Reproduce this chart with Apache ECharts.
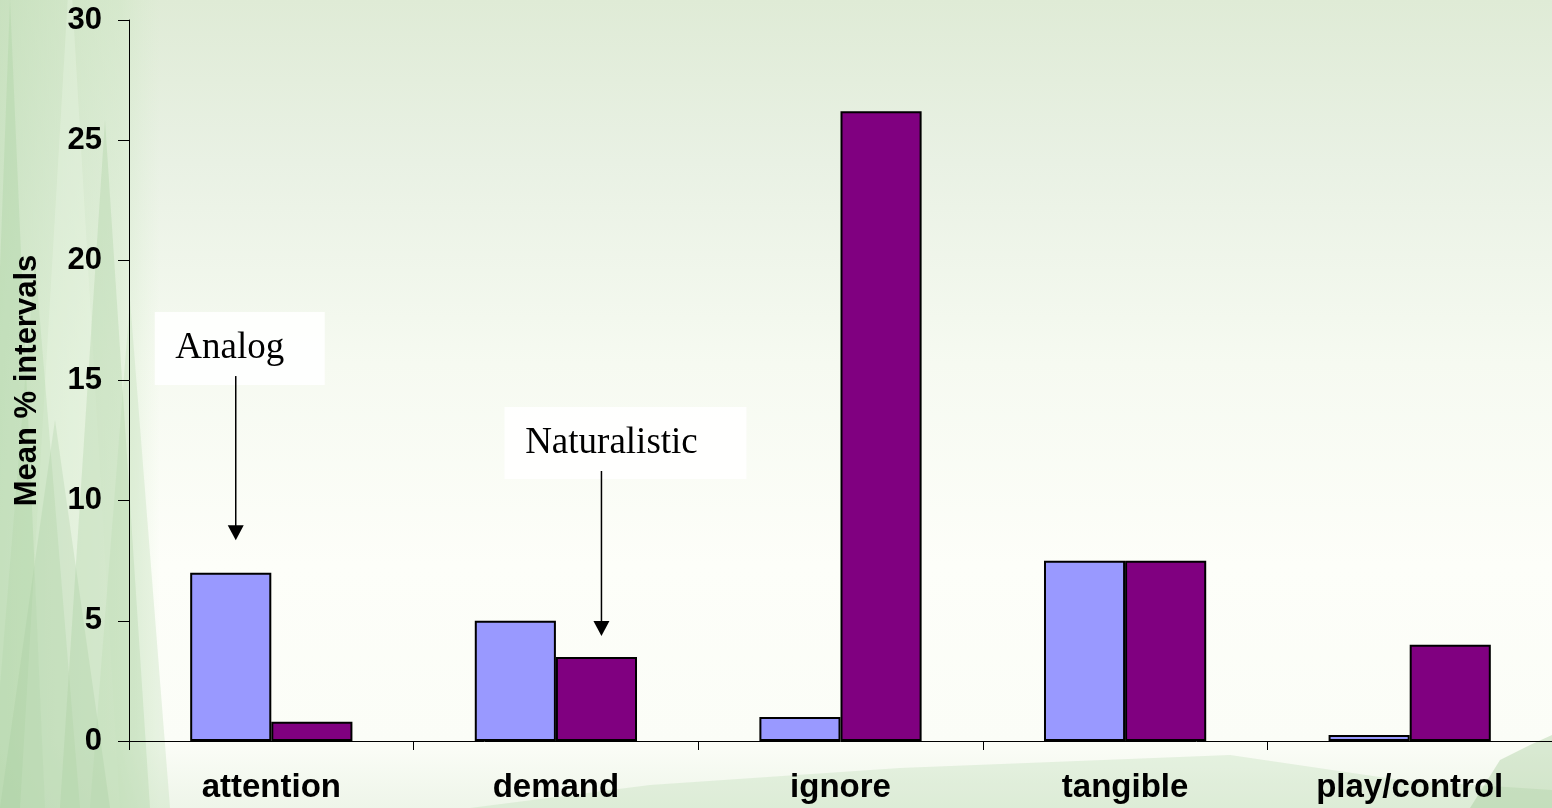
<!DOCTYPE html>
<html>
<head>
<meta charset="utf-8">
<script src="https://cdn.jsdelivr.net/npm/echarts@6/dist/echarts.min.js"></script>
<style>
html,body{margin:0;padding:0;width:1552px;height:808px;overflow:hidden;}
#chart{width:1552px;height:808px;}
</style>
</head>
<body>
<div id="chart"></div>
<script>
const categories = ['attention', 'demand', 'ignore', 'tangible', 'play/control'];
const analog = [7.0, 5.0, 1.0, 7.5, 0.25];
const naturalistic = [0.8, 3.5, 26.2, 7.5, 4.0];
const seriesNames = ['Analog', 'Naturalistic'];
const yTicks = { min: 0, max: 30, interval: 5 };
const yAxisName = 'Mean % intervals';
// annotation: which series/category it points to, and the value where the arrow tip ends
const annotations = [
  { text: 'Analog', series: 0, cat: 0, tipValue: 8.35, textValue: 16.35 },
  { text: 'Naturalistic', series: 1, cat: 1, tipValue: 4.37, textValue: 12.4 }
];

const chart = echarts.init(document.getElementById('chart'));

function treeGraphics() {
  const g = [];
  g.push({ type: 'rect', silent: true, z: -10, shape: { x: 0, y: 0, width: 160, height: 808 },
    style: { fill: new echarts.graphic.LinearGradient(0, 0, 1, 0, [
      { offset: 0, color: 'rgba(185,218,175,0.6)' },
      { offset: 0.75, color: 'rgba(200,228,190,0.4)' },
      { offset: 1, color: 'rgba(210,235,200,0)' }]) } });
  const spikes = [
    [[-20, 808], [10, 0], [45, 808]],
    [[20, 808], [70, -40], [120, 808]],
    [[60, 808], [105, 120], [150, 808]],
    [[-10, 808], [35, 260], [80, 808]],
    [[90, 808], [130, 300], [170, 808]],
    [[0, 808], [55, 420], [110, 808]]
  ];
  const cols = ['rgba(170,210,160,0.35)', 'rgba(235,245,230,0.35)', 'rgba(165,205,155,0.3)',
    'rgba(175,212,165,0.3)', 'rgba(185,218,175,0.3)', 'rgba(160,200,150,0.25)'];
  spikes.forEach((p, i) => g.push({ type: 'polygon', silent: true, z: -9,
    shape: { points: p }, style: { fill: cols[i] } }));
  g.push({ type: 'polygon', silent: true, z: -9,
    shape: { points: [[470, 808], [650, 785], [900, 768], [1230, 755], [1400, 780], [1552, 790], [1552, 808]] },
    style: { fill: 'rgba(160,205,150,0.22)' } });
  g.push({ type: 'polygon', silent: true, z: -9,
    shape: { points: [[1470, 808], [1500, 760], [1530, 745], [1552, 735], [1552, 808]] },
    style: { fill: 'rgba(140,190,125,0.3)' } });
  return g;
}

const option = {
  animation: false,
  backgroundColor: new echarts.graphic.LinearGradient(0, 0, 0, 1, [
    { offset: 0, color: '#dfebd6' },
    { offset: 0.2, color: '#e9f1e4' },
    { offset: 0.45, color: '#f6faf1' },
    { offset: 0.7, color: '#fdfef9' },
    { offset: 0.92, color: '#fbfdf7' },
    { offset: 1, color: '#eef5e9' }
  ]),
  grid: { left: 129, right: 0, top: 20, bottom: 67, containLabel: false },
  xAxis: {
    type: 'category',
    data: categories,
    axisLine: { lineStyle: { color: '#000', width: 1 } },
    axisTick: { show: true, length: 9, lineStyle: { color: '#000' } },
    axisLabel: { color: '#000', fontFamily: 'Liberation Sans, Arial', fontWeight: 'bold', fontSize: 33, margin: 30 }
  },
  yAxis: {
    type: 'value',
    min: yTicks.min, max: yTicks.max, interval: yTicks.interval,
    name: yAxisName,
    nameLocation: 'middle',
    nameGap: 86,
    nameRotate: 90,
    nameTextStyle: { color: '#000', fontFamily: 'Liberation Sans, Arial', fontWeight: 'bold', fontSize: 31 },
    axisLine: { show: true, lineStyle: { color: '#000', width: 1 } },
    axisTick: { show: true, length: 11, lineStyle: { color: '#000' } },
    splitLine: { show: false },
    axisLabel: { color: '#000', fontFamily: 'Liberation Sans, Arial', fontWeight: 'bold', fontSize: 31, margin: 27 }
  },
  series: [
    { name: seriesNames[0], type: 'bar', data: analog, barGap: '0%', barCategoryGap: '43%',
      itemStyle: { color: '#9999ff', borderColor: '#000', borderWidth: 2 } },
    { name: seriesNames[1], type: 'bar', data: naturalistic, barGap: '0%', barCategoryGap: '43%',
      itemStyle: { color: '#800080', borderColor: '#000', borderWidth: 2 } }
  ],
  graphic: treeGraphics()
};
chart.setOption(option);

// annotations anchored to bars via the chart's own layout
const extra = [];
const boxes = { 'Analog': [-75, -36, 170, 73, -6], 'Naturalistic': [-107, -36, 242, 72, 10] };
annotations.forEach(a => {
  const data = chart.getModel().getSeriesByIndex(a.series).getData();
  const lay = data.getItemLayout(a.cat);
  const ax = lay.x + lay.width / 2 + 5;
  const tipY = chart.convertToPixel({ yAxisIndex: 0 }, a.tipValue);
  const ty = chart.convertToPixel({ yAxisIndex: 0 }, a.textValue);
  const b = boxes[a.text];
  const tx = ax + b[4];
  extra.push({ type: 'rect', silent: true, z: 50,
    shape: { x: tx + b[0], y: ty + b[1], width: b[2], height: b[3] },
    style: { fill: 'rgba(255,255,255,0.88)' } });
  extra.push({ type: 'text', silent: true, z: 51, x: tx, y: ty,
    style: { text: a.text, font: '37px "Liberation Serif", "Times New Roman", serif', fill: '#000',
      align: 'center', verticalAlign: 'middle' } });
  extra.push({ type: 'line', silent: true, z: 51,
    shape: { x1: ax, y1: ty + 28, x2: ax, y2: tipY - 14 },
    style: { stroke: '#000', lineWidth: 1.5 } });
  extra.push({ type: 'polygon', silent: true, z: 51,
    shape: { points: [[ax - 8, tipY - 15], [ax + 8, tipY - 15], [ax, tipY]] },
    style: { fill: '#000' } });
});
chart.setOption({ graphic: treeGraphics().concat(extra) });
</script>
</body>
</html>
